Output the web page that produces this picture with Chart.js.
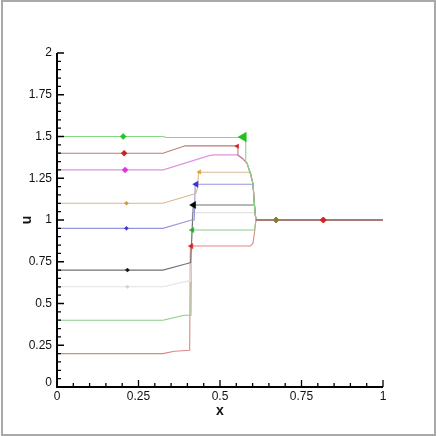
<!DOCTYPE html>
<html>
<head>
<meta charset="utf-8">
<script src="https://cdn.jsdelivr.net/npm/chart.js@4.4.1/dist/chart.umd.min.js"></script>
<style>
  body { margin: 0; background: #fff; }
  #wrap { position: relative; width: 436px; height: 436px; }
  #frame {
    position: absolute; left: 1px; top: 0px; width: 431px; height: 432px;
    border: 2px solid #a9a9a9; pointer-events: none;
  }
</style>
</head>
<body>
<div id="wrap">
  <canvas id="chart" width="436" height="436"></canvas>
  <div id="frame"></div>
</div>
<script>
// axis ticks
const xTicks = [0, 0.25, 0.5, 0.75, 1];
const xTickLabels = ["0", "0.25", "0.5", "0.75", "1"];
const yTicks = [0, 0.25, 0.5, 0.75, 1, 1.25, 1.5, 1.75, 2];
const yTickLabels = ["0", "0.25", "0.5", "0.75", "1", "1.25", "1.5", "1.75", "2"];
const minorStep = 0.05;

// curves (x, u)
const g150x = [0, 0.325, 0.335, 0.579, 0.579, 0.583, 0.593, 0.601, 0.604, 0.606, 0.609, 0.611, 1];
const g150u = [1.5, 1.5, 1.494, 1.494, 1.345, 1.34, 1.28, 1.22, 1.14, 1.08, 1.02, 1.0, 1.0];

const r140x = [0, 0.325, 0.393, 0.555, 0.555, 0.568, 0.583, 0.593, 0.601, 0.604, 0.606, 0.609, 0.611, 1];
const r140u = [1.4, 1.4, 1.444, 1.444, 1.388, 1.37, 1.34, 1.28, 1.22, 1.14, 1.08, 1.02, 1.0, 1.0];

const m130x = [0, 0.326, 0.464, 0.48, 0.552, 0.568, 0.583, 0.593, 0.601, 0.604, 0.606, 0.609, 0.611, 1];
const m130u = [1.3, 1.3, 1.384, 1.39, 1.39, 1.37, 1.34, 1.28, 1.22, 1.14, 1.08, 1.02, 1.0, 1.0];

const o110x = [0, 0.325, 0.418, 0.426, 0.432, 0.434, 0.594, 0.601, 0.604, 0.606, 0.609, 0.611, 1];
const o110u = [1.1, 1.1, 1.154, 1.16, 1.2, 1.286, 1.286, 1.22, 1.14, 1.08, 1.02, 1.0, 1.0];

const b095x = [0, 0.325, 0.413, 0.421, 0.424, 0.601, 0.604, 0.606, 0.609, 0.611, 1];
const b095u = [0.95, 0.95, 1.0, 1.0, 1.214, 1.214, 1.14, 1.08, 1.02, 1.0, 1.0];

const k070x = [0, 0.325, 0.40, 0.41, 0.418, 0.606, 0.609, 0.611, 1];
const k070u = [0.7, 0.7, 0.74, 0.745, 1.09, 1.09, 1.02, 1.0, 1.0];

const w060x = [0, 0.325, 0.40, 0.41, 0.415, 0.608, 0.611, 1];
const w060u = [0.6, 0.6, 0.634, 0.634, 1.044, 1.044, 1.0, 1.0];

const g040x = [0, 0.325, 0.39, 0.411, 0.413, 0.606, 0.609, 0.611, 1];
const g040u = [0.4, 0.4, 0.43, 0.43, 0.94, 0.94, 0.985, 1.0, 1.0];

const r020x = [0, 0.325, 0.36, 0.407, 0.409, 0.593, 0.601, 0.604, 0.606, 0.609, 0.611, 1];
const r020u = [0.2, 0.2, 0.214, 0.22, 0.844, 0.844, 0.86, 0.898, 0.928, 0.985, 1.0, 1.0];

// symbols near x = 0.2
const dotX = [0.203, 0.206, 0.209, 0.213, 0.213, 0.216, 0.216];
const dotU = [1.5, 1.4, 1.3, 1.1, 0.95, 0.7, 0.6];
// spikes at the jumps
const spikeX = [0.572, 0.553, 0.437, 0.427, 0.419, 0.415, 0.412];
const spikeU = [1.497, 1.442, 1.288, 1.214, 1.09, 0.94, 0.844];
// symbols on the right state
const rightX = [0.672, 0.817];
const rightU = [1.0, 1.0];

const lineColors = ["#86d686", "#bd7b7b", "#dc95dc", "#dab693", "#9696dd", "#727272", "#e4e4e4", "#8ccb8c", "#dc8787"];
const dotColors = ["#22c322", "#c42424", "#e52ee5", "#d9962e", "#3535dd", "#111111", "#d0d0d0"];
const spikeColors = ["#1fc21f", "#d02020", "#e5a020", "#3030e0", "#000000", "#20b020", "#e02020"];
const rightColors = ["#8a7a3a", "#d42020"];

const curves = [
  [g150x, g150u], [r140x, r140u], [m130x, m130u], [o110x, o110u], [b095x, b095u],
  [k070x, k070u], [w060x, w060u], [g040x, g040u], [r020x, r020u],
];

const zip = (xs, ys) => xs.map((x, i) => ({ x: x, y: ys[i] }));

const datasets = [];
curves.forEach((c, i) => {
  datasets.push({
    data: zip(c[0], c[1]),
    borderColor: lineColors[i],
    borderWidth: 1.1,
    pointRadius: 0,
    tension: 0,
    order: 2,
  });
});
// the shared right state drawn on top in brown
datasets.push({
  data: zip([0.611, 1], [1.0, 1.0]),
  borderColor: "#a86a6a",
  borderWidth: 1.3,
  pointRadius: 0,
  order: 1,
});
datasets.push({
  data: zip(dotX, dotU),
  showLine: false,
  pointStyle: "rectRot",
  pointRadius: [3, 3, 3, 2, 2, 2, 1.8],
  pointBackgroundColor: dotColors,
  pointBorderColor: dotColors,
  pointBorderWidth: 0.5,
  order: 0,
});
datasets.push({
  data: zip(spikeX, spikeU),
  showLine: false,
  pointStyle: "triangle",
  rotation: -90,
  pointRadius: [5.5, 2.5, 2.5, 3.5, 4, 3, 3],
  pointBackgroundColor: spikeColors,
  pointBorderColor: spikeColors,
  pointBorderWidth: 0.5,
  order: 0,
});
datasets.push({
  data: zip(rightX, rightU),
  showLine: false,
  pointStyle: "rectRot",
  pointRadius: 3,
  pointBackgroundColor: rightColors,
  pointBorderColor: rightColors,
  order: 0,
});

// tecplot style axes: thick lines, inward ticks, labels
const axesPlugin = {
  id: "axes",
  afterDraw(chart) {
    const ctx = chart.ctx;
    const xs = chart.scales.x;
    const ys = chart.scales.y;
    const x0 = xs.getPixelForValue(0), x1 = xs.getPixelForValue(1);
    const y0 = ys.getPixelForValue(0), y1 = ys.getPixelForValue(2);
    ctx.save();
    ctx.strokeStyle = "#000";
    ctx.lineWidth = 2;
    ctx.beginPath();
    ctx.moveTo(x0, y1);
    ctx.lineTo(x0, y0);
    ctx.lineTo(x1, y0);
    ctx.stroke();

    ctx.lineWidth = 1.3;
    ctx.beginPath();
    for (let v = 0; v <= 2.0001; v += minorStep) {
      const major = yTicks.some((t) => Math.abs(t - v) < 1e-6);
      const p = ys.getPixelForValue(v);
      ctx.moveTo(x0, p);
      ctx.lineTo(x0 + (major ? 7 : 4), p);
    }
    for (let v = 0; v <= 1.0001; v += minorStep) {
      const major = xTicks.some((t) => Math.abs(t - v) < 1e-6);
      const p = xs.getPixelForValue(v);
      ctx.moveTo(p, y0);
      ctx.lineTo(p, y0 - (major ? 7 : 4));
    }
    ctx.stroke();

    ctx.fillStyle = "#111";
    ctx.font = '12px "Liberation Sans", Arial, sans-serif';
    ctx.textAlign = "right";
    ctx.textBaseline = "middle";
    yTicks.forEach((t, i) => {
      ctx.fillText(yTickLabels[i], x0 - 5, ys.getPixelForValue(t) - (t === 0 ? 4 : 0));
    });
    ctx.textAlign = "center";
    ctx.textBaseline = "top";
    xTicks.forEach((t, i) => {
      ctx.fillText(xTickLabels[i], xs.getPixelForValue(t), y0 + 4);
    });

    ctx.font = 'bold 14px "Liberation Sans", Arial, sans-serif';
    ctx.textBaseline = "middle";
    ctx.fillText("x", (x0 + x1) / 2, y0 + 24);
    ctx.save();
    ctx.translate(27, ys.getPixelForValue(1));
    ctx.rotate(-Math.PI / 2);
    ctx.fillText("u", 0, 0);
    ctx.restore();
    ctx.restore();
  },
};

new Chart(document.getElementById("chart"), {
  type: "line",
  data: { datasets: datasets },
  options: {
    responsive: false,
    animation: false,
    layout: { padding: { left: 57, right: 53, top: 53, bottom: 49 } },
    plugins: { legend: { display: false }, tooltip: { enabled: false } },
    scales: {
      x: { type: "linear", min: 0, max: 1, display: false },
      y: { type: "linear", min: 0, max: 2, display: false },
    },
  },
  plugins: [axesPlugin],
});
</script>
</body>
</html>
